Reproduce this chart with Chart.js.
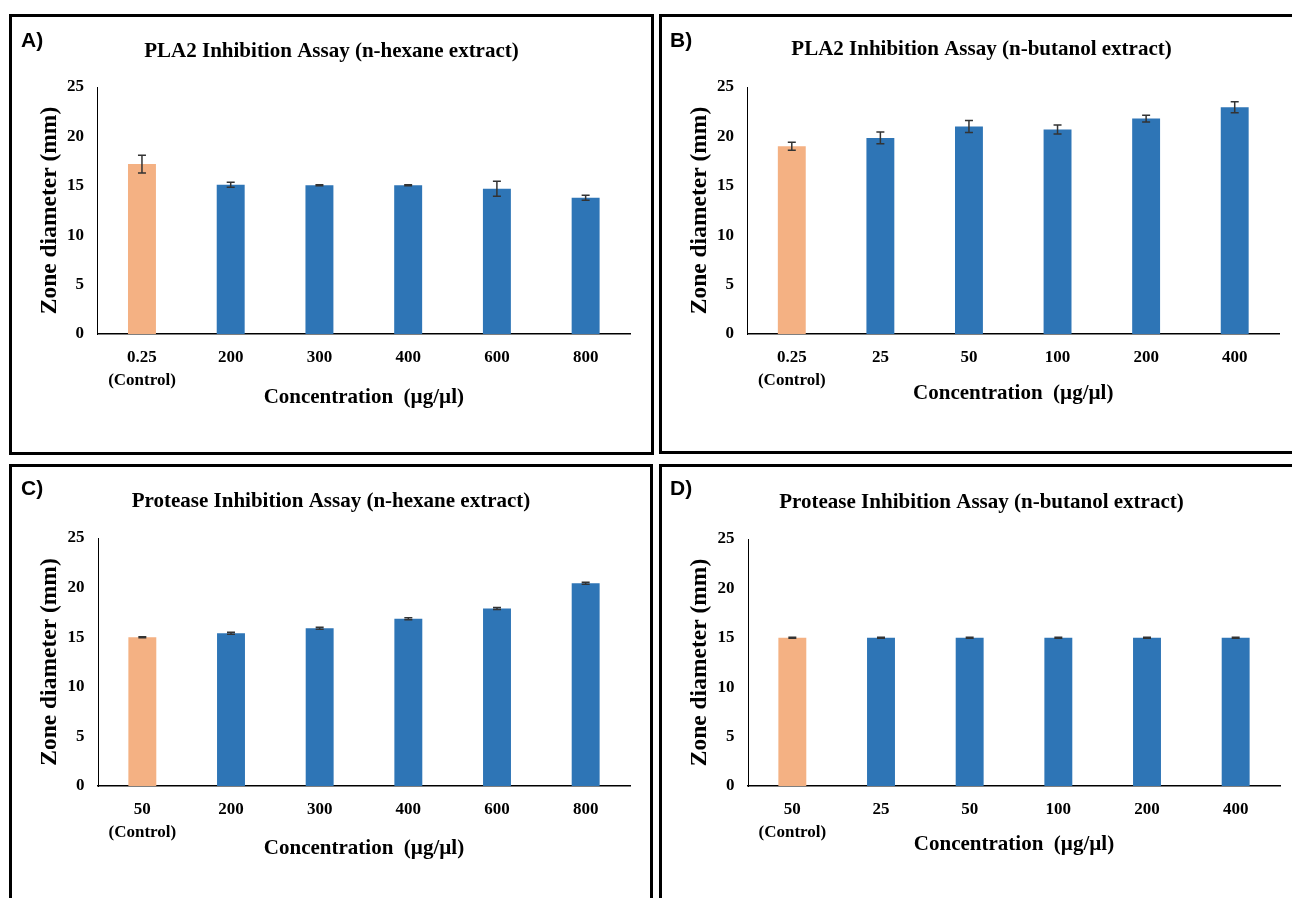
<!DOCTYPE html>
<html>
<head>
<meta charset="utf-8">
<script src="https://cdn.jsdelivr.net/npm/chart.js@4.4.1/dist/chart.umd.min.js"></script>
<style>
  html, body { margin: 0; padding: 0; background: #fff; }
  body { width: 1292px; height: 898px; position: relative; overflow: hidden; }
  .panel { position: absolute; border: 3px solid #000; box-sizing: border-box; background: #fff; }
  .wrap { position: absolute; left: 0; top: 0; right: 0; bottom: 0; }
  .tag { position: absolute; font: bold 21px "Liberation Sans", Arial, sans-serif; line-height: 1; color: #000; }
</style>
</head>
<body>
<div class="panel" id="pA" style="left:9px;top:14px;width:645px;height:441px;">
  <div class="wrap"><canvas id="cA"></canvas></div>
  <div class="tag" style="left:9px;top:12px;">A)</div>
</div>
<div class="panel" id="pB" style="left:659px;top:14px;width:645px;height:440px;">
  <div class="wrap"><canvas id="cB"></canvas></div>
  <div class="tag" style="left:8px;top:12px;">B)</div>
</div>
<div class="panel" id="pC" style="left:9px;top:464px;width:644px;height:445px;">
  <div class="wrap"><canvas id="cC"></canvas></div>
  <div class="tag" style="left:9px;top:10px;">C)</div>
</div>
<div class="panel" id="pD" style="left:659px;top:464px;width:645px;height:445px;">
  <div class="wrap"><canvas id="cD"></canvas></div>
  <div class="tag" style="left:8px;top:10px;">D)</div>
</div>

<script>
// ---- data ----
var labelsHexPLA = [['0.25', '(Control)'], '200', '300', '400', '600', '800'];
var labelsButPLA = [['0.25', '(Control)'], '25', '50', '100', '200', '400'];
var labelsHexPro = [['50', '(Control)'], '200', '300', '400', '600', '800'];
var labelsButPro = [['50', '(Control)'], '25', '50', '100', '200', '400'];

var valuesA = [17.2, 15.1, 15.05, 15.05, 14.7, 13.8];
var errorsA = [0.9, 0.25, 0.05, 0.05, 0.75, 0.25];

var valuesB = [19.0, 19.85, 21.0, 20.7, 21.8, 22.95];
var errorsB = [0.4, 0.6, 0.6, 0.45, 0.35, 0.55];

var valuesC = [15.0, 15.4, 15.9, 16.85, 17.9, 20.45];
var errorsC = [0.05, 0.1, 0.1, 0.1, 0.1, 0.1];

var valuesD = [15.0, 15.0, 15.0, 15.0, 15.0, 15.0];
var errorsD = [0.05, 0.05, 0.05, 0.05, 0.05, 0.05];

var yTicks = [0, 5, 10, 15, 20, 25];

var controlColor = 'rgb(244, 177, 131)';
var extractColor = 'rgb(46, 117, 182)';
var serif = '"Liberation Serif", "Times New Roman", serif';

Chart.defaults.color = '#000';
Chart.defaults.font.family = serif;

// draws the +/- error bars on top of each bar
var errorBars = {
  id: 'errorBars',
  afterDatasetsDraw: function(chart) {
    var ctx = chart.ctx;
    var y = chart.scales.y;
    var ds = chart.data.datasets[0];
    var meta = chart.getDatasetMeta(0);
    ctx.save();
    ctx.strokeStyle = '#333';
    ctx.lineWidth = 1.5;
    meta.data.forEach(function(bar, i) {
      var top = y.getPixelForValue(ds.data[i] + ds.errors[i]);
      var bot = y.getPixelForValue(ds.data[i] - ds.errors[i]);
      ctx.beginPath();
      ctx.moveTo(bar.x, top); ctx.lineTo(bar.x, bot);
      ctx.moveTo(bar.x - 4, top); ctx.lineTo(bar.x + 4, top);
      ctx.moveTo(bar.x - 4, bot); ctx.lineTo(bar.x + 4, bot);
      ctx.stroke();
    });
    ctx.restore();
  }
};

function makePanel(id, title, labels, values, errors, g) {
  var colors = values.map(function(v, i) { return i === 0 ? controlColor : extractColor; });
  return new Chart(document.getElementById(id), {
    type: 'bar',
    data: {
      labels: labels,
      datasets: [{
        data: values,
        errors: errors,
        backgroundColor: colors,
        borderWidth: 0,
        categoryPercentage: 1,
        barPercentage: 0.315
      }]
    },
    options: {
      responsive: true,
      maintainAspectRatio: false,
      animation: false,
      layout: { padding: { left: g.side, right: g.side, top: 0, bottom: 0 } },
      plugins: {
        legend: { display: false },
        tooltip: { enabled: false },
        title: {
          display: true,
          text: title,
          font: { size: 21, weight: 'bold', family: serif },
          padding: { top: g.titleTop, bottom: g.plotTop - g.titleTop - 25.2 }
        }
      },
      scales: {
        x: {
          grid: { display: false, drawTicks: false },
          border: { display: true, color: '#000', width: 1.5 },
          ticks: {
            maxRotation: 0, autoSkip: false, padding: 12.5,
            font: { size: 17, weight: 'bold', family: serif, lineHeight: 1.35 }
          },
          title: {
            display: true,
            text: 'Concentration  (\u00b5g/\u00b5l)',
            font: { size: 21, weight: 'bold', family: serif },
            padding: { top: 0, bottom: g.xTitleBottom }
          },
          afterFit: function(s) { s.height = g.below; }
        },
        y: {
          min: 0, max: 25,
          grid: { display: false, drawTicks: false },
          border: { display: true, color: '#000', width: 1 },
          afterBuildTicks: function(s) { s.ticks = yTicks.map(function(v) { return { value: v }; }); },
          ticks: {
            padding: 13.5,
            font: { size: 17, weight: 'bold', family: serif }
          },
          title: {
            display: true,
            text: 'Zone diameter (mm)',
            font: { size: 23.5, weight: 'bold', family: serif },
            padding: { top: g.yTitleLeft, bottom: 0 }
          },
          afterFit: function(s) { s.width = g.plotLeft - g.side; }
        }
      }
    },
    plugins: [errorBars]
  });
}

makePanel('cA', 'PLA2 Inhibition Assay (n-hexane extract)', labelsHexPLA, valuesA, errorsA,
  { side: 21, plotLeft: 85.6, plotTop: 70, below: 118, titleTop: 22, xTitleBottom: 42, yTitleLeft: 3 });
makePanel('cB', 'PLA2 Inhibition Assay (n-butanol extract)', labelsButPLA, valuesB, errorsB,
  { side: 22, plotLeft: 85.5, plotTop: 70, below: 117, titleTop: 20, xTitleBottom: 45, yTitleLeft: 2 });
makePanel('cC', 'Protease Inhibition Assay (n-hexane extract)', labelsHexPro, valuesC, errorsC,
  { side: 20, plotLeft: 86, plotTop: 71, below: 120, titleTop: 22, xTitleBottom: 45, yTitleLeft: 4 });
makePanel('cD', 'Protease Inhibition Assay (n-butanol extract)', labelsButPro, valuesD, errorsD,
  { side: 21, plotLeft: 86, plotTop: 72, below: 120, titleTop: 23, xTitleBottom: 49, yTitleLeft: 3 });
</script>
</body>
</html>
